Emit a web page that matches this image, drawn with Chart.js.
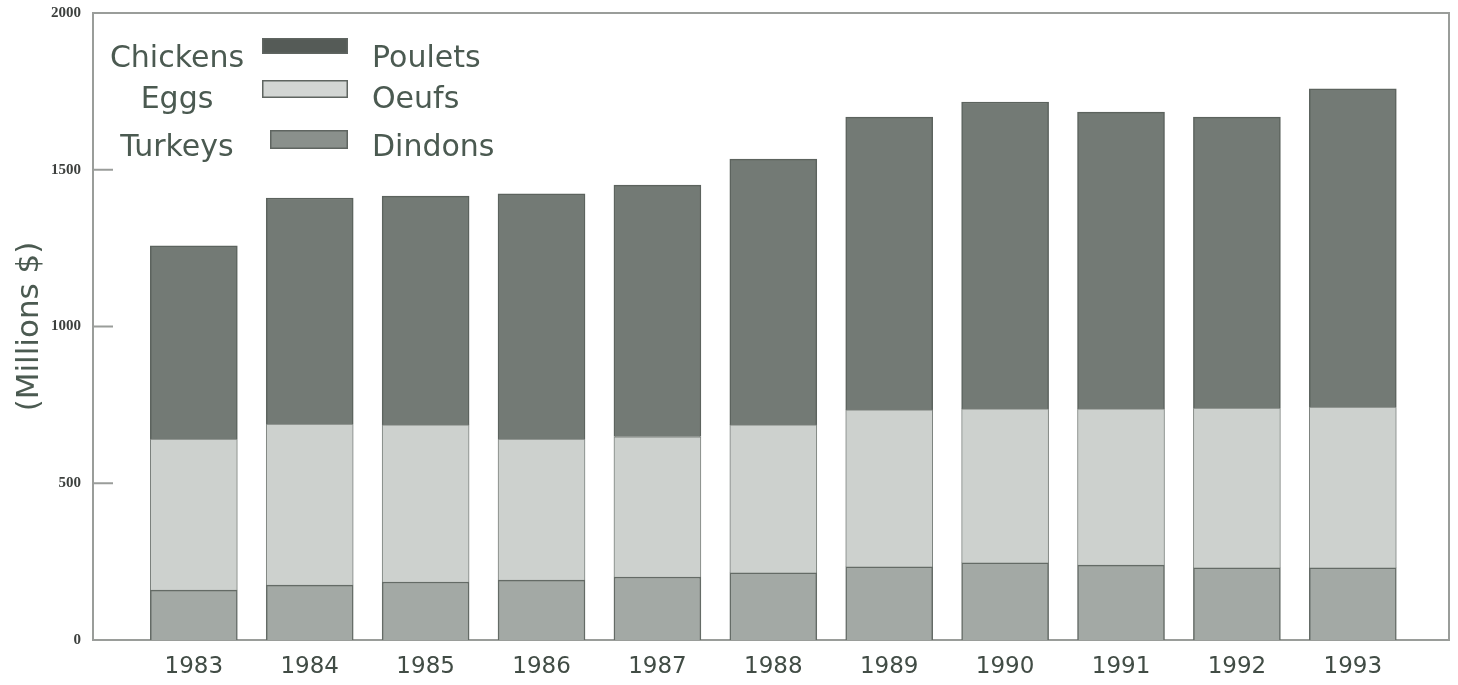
<!DOCTYPE html>
<html>
<head>
<meta charset="utf-8">
<script src="https://cdn.jsdelivr.net/npm/chart.js@4.4.1/dist/chart.umd.min.js"></script>
<style>
  html, body { margin: 0; padding: 0; background: #ffffff; }
  #wrap { width: 1458px; height: 685px; }
</style>
</head>
<body>
<div id="wrap"><canvas id="poultryChart"></canvas></div>
<script>
// data (millions $)
const years = ['1983', '1984', '1985', '1986', '1987', '1988', '1989', '1990', '1991', '1992', '1993'];
const turkeys = [159, 175, 185, 191, 201, 214, 233, 246, 239, 230, 230];
const eggs = [482, 514, 501, 450, 447, 472, 501, 491, 498, 510, 513];
const chickens = [616, 721, 730, 782, 803, 848, 934, 979, 947, 928, 1015];
const yTicks = [0, 500, 1000, 1500, 2000];

const namesEn = ['Turkeys', 'Eggs', 'Chickens'];
const namesFr = ['Dindons', 'Oeufs', 'Poulets'];

const textColor = '#4b5a51';

function toPoints(values) {
  return values.map((v, i) => ({ x: i, y: v }));
}

// bilingual legend: english | swatch | french
const bilingualLegend = {
  id: 'bilingualLegend',
  afterDraw(chart) {
    const ctx = chart.ctx;
    const rows = [
      { ds: 2, base: 67, box: [262, 38, 86, 16] },
      { ds: 1, base: 108, box: [262, 80, 86, 18] },
      { ds: 0, base: 156, box: [270, 130, 78, 19] }
    ];
    ctx.save();
    ctx.font = '30px "DejaVu Sans"';
    ctx.textBaseline = 'alphabetic';
    rows.forEach(r => {
      const ds = chart.data.datasets[r.ds];
      ctx.fillStyle = textColor;
      ctx.textAlign = 'center';
      ctx.fillText(namesEn[r.ds], 177, r.base);
      ctx.textAlign = 'left';
      ctx.fillText(namesFr[r.ds], 372, r.base);
      ctx.fillStyle = ds.legendColor;
      ctx.fillRect(r.box[0], r.box[1], r.box[2], r.box[3]);
      ctx.strokeStyle = '#5f6561';
      ctx.lineWidth = 1.5;
      ctx.strokeRect(r.box[0] + 0.75, r.box[1] + 0.75, r.box[2] - 1.5, r.box[3] - 1.5);
    });
    ctx.restore();
  }
};

// top/right frame lines and inward y tick marks
const frame = {
  id: 'frame',
  beforeDatasetsDraw(chart) {
    const ctx = chart.ctx;
    const a = chart.chartArea;
    const y = chart.scales.y;
    ctx.save();
    ctx.strokeStyle = '#9a9d9a';
    ctx.lineWidth = 2;
    ctx.beginPath();
    ctx.moveTo(a.left, a.top);
    ctx.lineTo(a.right, a.top);
    ctx.lineTo(a.right, a.bottom);
    ctx.stroke();
    ctx.beginPath();
    yTicks.forEach(t => {
      const py = y.getPixelForValue(t);
      ctx.moveTo(a.left, py);
      ctx.lineTo(a.left + 20, py);
    });
    ctx.stroke();
    ctx.restore();
  }
};

const ctxPoultry = document.getElementById('poultryChart');

new Chart(ctxPoultry, {
  type: 'bar',
  data: {
    datasets: [
      {
        label: namesEn[0],
        data: toPoints(turkeys),
        backgroundColor: '#a3a9a5',
        legendColor: '#8a908c',
        borderColor: '#646b66',
        borderWidth: 1.5
      },
      {
        label: namesEn[1],
        data: toPoints(eggs),
        backgroundColor: '#cdd1ce',
        legendColor: '#d3d6d4',
        borderColor: '#7b817d',
        borderWidth: 1
      },
      {
        label: namesEn[2],
        data: toPoints(chickens),
        backgroundColor: '#737a75',
        legendColor: '#555b57',
        borderColor: '#5c635e',
        borderWidth: 1.5
      }
    ]
  },
  options: {
    responsive: true,
    maintainAspectRatio: false,
    animation: false,
    barThickness: 87,
    layout: {
      padding: { top: 13, right: 9, bottom: 0, left: 0 }
    },
    plugins: {
      legend: { display: false },
      tooltip: { enabled: false }
    },
    scales: {
      x: {
        type: 'linear',
        stacked: true,
        offset: false,
        min: -0.87,
        max: 10.83,
        grid: { display: false, drawTicks: false },
        border: { display: true, color: '#9a9d9a', width: 2 },
        afterBuildTicks: scale => {
          scale.ticks = years.map((_, i) => ({ value: i }));
        },
        ticks: {
          autoSkip: false,
          maxRotation: 0,
          padding: 13,
          color: '#414c45',
          font: { family: 'DejaVu Sans', size: 23 },
          callback: v => years[v]
        },
        afterFit: scale => { scale.height = 45; }
      },
      y: {
        stacked: true,
        min: 0,
        max: 2000,
        grid: { display: false, drawTicks: false },
        border: { display: true, color: '#9a9d9a', width: 2 },
        ticks: {
          stepSize: 500,
          padding: 12,
          color: '#3d403e',
          font: { family: 'Liberation Serif', size: 15, weight: 'bold' },
          callback: v => String(v)
        },
        title: {
          display: true,
          text: '(Millions $)',
          color: textColor,
          font: { family: 'DejaVu Sans', size: 31 },
          padding: { top: 11, bottom: 0 }
        },
        afterFit: scale => {
          scale.width = 93;
          scale.paddingTop = 8;
          scale.paddingBottom = 8;
        }
      }
    }
  },
  plugins: [frame, bilingualLegend]
});
</script>
</body>
</html>
